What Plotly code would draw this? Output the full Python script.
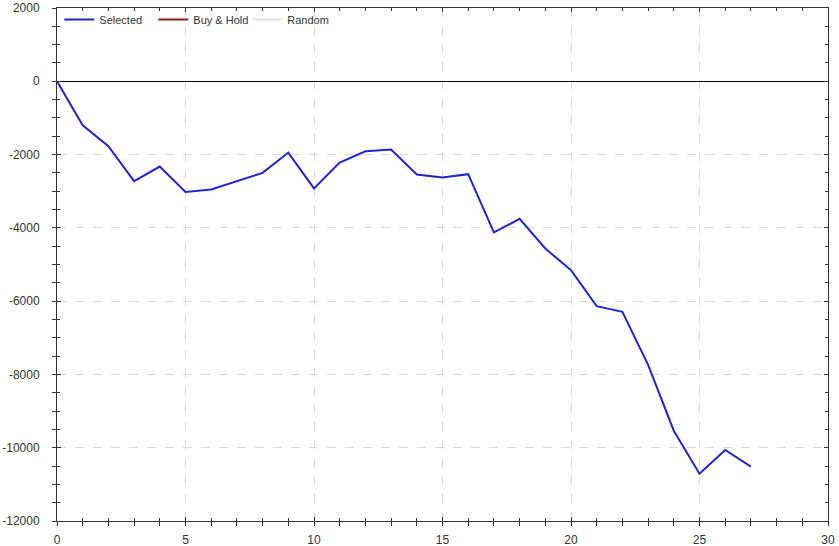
import plotly.graph_objects as go

periods = list(range(28))
selected = [0, -1200, -1773, -2727, -2326, -3019, -2953, -2727, -2500, -1945,
            -2923, -2217, -1909, -1863, -2545, -2626, -2536, -4126, -3755, -4564,
            -5154, -6136, -6291, -7740, -9536, -10709, -10063, -10518]
buy_hold = [None]
random_series = [None]

x_range = [0, 30]
y_range = [-12000, 2000]
y_tickvals = [2000, 0, -2000, -4000, -6000, -8000, -10000, -12000]
y_ticktext = ["2000", "0", "-2000", "-4000", "-6000", "-8000", "-10000", "-12000"]
x_tickvals = [0, 5, 10, 15, 20, 25, 30]
x_ticktext = ["0", "5", "10", "15", "20", "25", "30"]

font_family = "Liberation Sans, Arial, sans-serif"
grid_color = "#d9d9d9"
axis_color = "#333333"

fig = go.Figure()
fig.add_trace(go.Scatter(x=periods, y=selected, mode="lines", name="Selected",
                         line=dict(color="#2525c4", width=2)))
fig.add_trace(go.Scatter(x=[None], y=buy_hold, mode="lines", name="Buy & Hold",
                         line=dict(color="#8b1c1c", width=2)))
fig.add_trace(go.Scatter(x=[None], y=random_series, mode="lines", name="Random",
                         line=dict(color="#e3e3e3", width=2)))
# overlay trace to carry the outside tick marks (invisible)
fig.add_trace(go.Scatter(x=periods, y=selected, mode="lines", xaxis="x2", yaxis="y2",
                         showlegend=False, hoverinfo="skip", opacity=0,
                         line=dict(width=0)))

common_tick = dict(ticks="inside", ticklen=4, tickwidth=1, tickcolor=axis_color,
                   showline=True, linecolor=axis_color, linewidth=1, mirror="ticks",
                   showgrid=True, gridcolor=grid_color, griddash="dash", gridwidth=1,
                   automargin=False,
                   tickfont=dict(family=font_family, size=12, color="#333333"))

fig.update_layout(
    width=839, height=546,
    margin=dict(l=57, r=11, t=8, b=25, autoexpand=False),
    paper_bgcolor="white", plot_bgcolor="white",
    font=dict(family=font_family, size=11, color="#333333"),
    showlegend=True,
    legend=dict(orientation="h", x=0.003, y=1.006, xanchor="left", yanchor="top",
                bgcolor="rgba(0,0,0,0)", font=dict(size=11, color="#333333"),
                entrywidth=49, entrywidthmode="pixels", itemwidth=30),
    xaxis=dict(range=x_range, tickmode="array", tickvals=x_tickvals, ticktext=x_ticktext,
               zeroline=False,
               minor=dict(dtick=1, tick0=0, ticks="inside", ticklen=3, tickcolor=axis_color, showgrid=False),
               ticklabelstandoff=8, **common_tick),
    yaxis=dict(range=y_range, tickmode="array", tickvals=y_tickvals, ticktext=y_ticktext,
               zeroline=True, zerolinecolor="#000000", zerolinewidth=1,
               minor=dict(dtick=500, tick0=0, ticks="inside", ticklen=3, tickcolor=axis_color, showgrid=False),
               ticklabelstandoff=14, **common_tick),
    xaxis2=dict(range=x_range, overlaying="x", anchor="y2", side="bottom", dtick=1,
                ticks="outside", ticklen=4, tickcolor=axis_color, showticklabels=False,
                showgrid=False, zeroline=False, showline=False, automargin=False),
    yaxis2=dict(range=y_range, overlaying="y", anchor="x2", side="left", dtick=500,
                ticks="outside", ticklen=4, tickcolor=axis_color, showticklabels=False,
                showgrid=False, zeroline=False, showline=False, automargin=False),
)

fig.write_html("out.html", config={"displayModeBar": False},
               post_script="document.body.style.margin='0';document.body.style.overflow='hidden';")
